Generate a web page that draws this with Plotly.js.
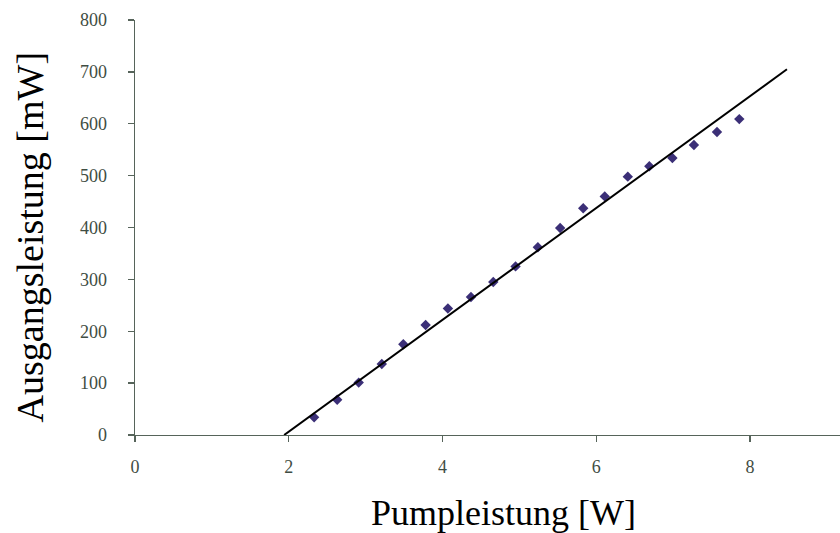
<!DOCTYPE html>
<html>
<head>
<meta charset="utf-8">
<script src="https://cdn.plot.ly/plotly-3.0.1.min.js"></script>
<style>html,body{margin:0;padding:0;background:#fff;}#chart{width:840px;height:533px;}</style>
</head>
<body>
<div id="chart"></div>
<script>
// Measured data points
const pumpPower = [2.33, 2.63, 2.91, 3.21, 3.49, 3.78, 4.07, 4.37, 4.66, 4.95, 5.24, 5.53, 5.83, 6.11, 6.41, 6.69, 6.99, 7.27, 7.57, 7.86];
const outputPower = [34, 68, 101, 137, 175, 212, 244, 266, 295, 325, 362, 399, 437, 460, 498, 518, 534, 559, 584, 609];
// Linear trend line end points
const fitX = [1.94, 8.48];
const fitY = [0, 705];
const xTicks = [0, 2, 4, 6, 8];
const yTicks = [0, 100, 200, 300, 400, 500, 600, 700, 800];
const xTitle = 'Pumpleistung [W]';
const yTitle = 'Ausgangsleistung [mW]';

const serif = 'Liberation Serif';
const axisColor = '#56645a';
const tickColor = '#3f4d43';

const data = [
  {x: pumpPower, y: outputPower, type: 'scatter', mode: 'markers',
   marker: {symbol: 'diamond', size: 8, color: '#3b2f77'}, hoverinfo: 'x+y'},
  {x: fitX, y: fitY, type: 'scatter', mode: 'lines',
   line: {color: '#000000', width: 2}, hoverinfo: 'skip'}
];

const layout = {
  width: 840, height: 533,
  margin: {l: 135.4, r: 0, t: 20, b: 98},
  paper_bgcolor: '#ffffff', plot_bgcolor: '#ffffff',
  showlegend: false,
  font: {family: serif, size: 18, color: tickColor},
  xaxis: {
    range: [0, 9.17], tickmode: 'array', tickvals: xTicks, ticktext: xTicks.map(String),
    showgrid: false, zeroline: false, showline: true, linecolor: axisColor, linewidth: 1.3,
    ticks: 'outside', ticklen: 6, tickcolor: axisColor, tickwidth: 1.3,
    tickfont: {family: serif, size: 18, color: tickColor}, ticklabelstandoff: 9
  },
  yaxis: {
    range: [0, 800], tickmode: 'array', tickvals: yTicks, ticktext: yTicks.map(String),
    showgrid: false, zeroline: false, showline: true, linecolor: axisColor, linewidth: 1.3,
    ticks: 'outside', ticklen: 6, tickcolor: axisColor, tickwidth: 1.3,
    tickfont: {family: serif, size: 18, color: tickColor}, ticklabelstandoff: 17
  },
  annotations: [
    {text: xTitle, xref: 'paper', yref: 'paper', x: 0.523, y: -0.188,
     xanchor: 'center', yanchor: 'middle', showarrow: false,
     font: {family: serif, size: 36, color: '#000'}},
    {text: yTitle, xref: 'paper', yref: 'paper', x: -0.1496, y: 0.475, textangle: -90,
     xanchor: 'center', yanchor: 'middle', showarrow: false,
     font: {family: serif, size: 38, color: '#000'}}
  ]
};

Plotly.newPlot('chart', data, layout, {displayModeBar: false, staticPlot: true});
</script>
</body>
</html>
